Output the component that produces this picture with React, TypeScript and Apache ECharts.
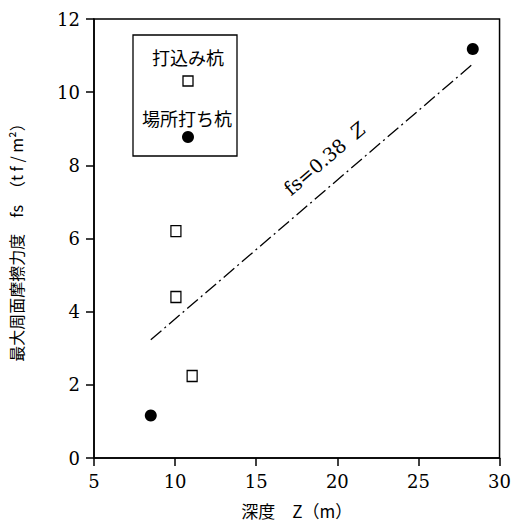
import React, { useEffect, useRef } from "react";
import * as echarts from "echarts";

const xTicks = [5, 10, 15, 20, 25, 30];
const yTicks = [0, 2, 4, 6, 8, 10, 12];
const drivenPiles: [number, number][] = [
  [10.05, 6.2],
  [10.05, 4.4],
  [11.05, 2.24],
];
const castInPlacePiles: [number, number][] = [
  [8.5, 1.16],
  [28.35, 11.18],
];
const fitStart: [number, number] = [8.5, 3.23];
const fitEnd: [number, number] = [28.35, 10.77];
const fitLabel = "fs=0.38  ";
const legendNames = ["打込み杭", "場所打ち杭"];
const xTitle = "深度　Z（m）";
const yTitle = "最大周面摩擦力度　fs　（t f / m²）";

const serif = "DejaVu Serif";
const cjk = "Noto Sans CJK JP";

export default function App() {
  const ref = useRef<HTMLDivElement>(null);
  useEffect(() => {
    if (!ref.current) return;
    const chart = echarts.init(ref.current, undefined, { renderer: "svg" });
    const labelStyle = {
      show: true,
      color: "#000",
      fontFamily: serif,
      fontSize: 18,
      textStyle: { fontFamily: serif, fontSize: 18, color: "#000" },
    };
    chart.setOption({
      animation: false,
      backgroundColor: "#fff",
      textStyle: { fontFamily: serif, color: "#000" },
      grid: {
        left: 92,
        right: 9,
        top: 19,
        bottom: 65,
        show: true,
        borderColor: "#000",
        borderWidth: 1.5,
        backgroundColor: "transparent",
      },
      xAxis: {
        type: "value",
        min: xTicks[0],
        max: xTicks[xTicks.length - 1],
        interval: 5,
        axisLine: { show: true, lineStyle: { color: "#000", width: 1.5 } },
        axisTick: { show: true, inside: false, length: 8, lineStyle: { color: "#000", width: 1.5 } },
        splitLine: { show: false },
        axisLabel: { ...labelStyle, margin: 14 },
        name: xTitle,
        nameLocation: "middle",
        nameGap: 44,
        nameTextStyle: { color: "#000", fontFamily: cjk, fontSize: 17 },
      },
      yAxis: {
        type: "value",
        min: yTicks[0],
        max: yTicks[yTicks.length - 1],
        interval: 2,
        axisLine: { show: true, lineStyle: { color: "#000", width: 1.5 } },
        axisTick: { show: true, inside: false, length: 8, lineStyle: { color: "#000", width: 1.5 } },
        splitLine: { show: false },
        axisLabel: { ...labelStyle, margin: 14 },
        name: yTitle,
        nameLocation: "middle",
        nameGap: 70,
        nameTextStyle: { color: "#000", fontFamily: cjk, fontSize: 16 },
      },
      series: [
        {
          name: legendNames[0],
          type: "scatter",
          data: drivenPiles,
          symbol: "rect",
          symbolSize: [10, 11],
          itemStyle: { color: "#fff", borderColor: "#000", borderWidth: 1.3, opacity: 1 },
        },
        {
          name: legendNames[1],
          type: "scatter",
          data: castInPlacePiles,
          symbol: "circle",
          symbolSize: 12,
          itemStyle: { color: "#000", opacity: 1 },
        },
        {
          name: "fit",
          type: "line",
          data: [],
          markLine: {
            silent: true,
            symbol: "none",
            animation: false,
            lineStyle: { color: "#000", width: 1.3, type: [14, 4, 2, 4], opacity: 1 },
            label: {
              show: true,
              position: "middle",
              distance: 20,
              offset: [25, 0],
              fontFamily: serif,
              formatter: "{a|" + fitLabel + "}{b|Z}",
              rich: {
                a: { fontFamily: serif, fontSize: 19, color: "#000" },
                b: { fontFamily: serif, fontSize: 19, fontStyle: "italic", color: "#000" },
              },
            },
            data: [[{ coord: fitStart }, { coord: fitEnd }]],
          },
        },
      ],
      graphic: [
        {
          type: "rect",
          shape: { x: 133, y: 35, width: 104, height: 121 },
          style: { fill: "#fff", stroke: "#000", lineWidth: 1.3 },
          z: 10,
        },
        {
          type: "text",
          x: 188,
          y: 57,
          style: {
            text: legendNames[0],
            fontFamily: cjk,
            fontSize: 18,
            fill: "#000",
            align: "center",
            verticalAlign: "middle",
          },
          z: 11,
        },
        {
          type: "rect",
          shape: { x: 183, y: 76, width: 10, height: 10 },
          style: { fill: "#fff", stroke: "#000", lineWidth: 1.3 },
          z: 11,
        },
        {
          type: "text",
          x: 187,
          y: 118,
          style: {
            text: legendNames[1],
            fontFamily: cjk,
            fontSize: 18,
            fill: "#000",
            align: "center",
            verticalAlign: "middle",
          },
          z: 11,
        },
        {
          type: "circle",
          shape: { cx: 188, cy: 137, r: 6 },
          style: { fill: "#000" },
          z: 11,
        },
      ],
    });
    return () => chart.dispose();
  }, []);
  return (
    <div
      ref={ref}
      style={{ position: "fixed", left: 0, top: 0, width: 514, height: 524, background: "#fff" }}
    />
  );
}
